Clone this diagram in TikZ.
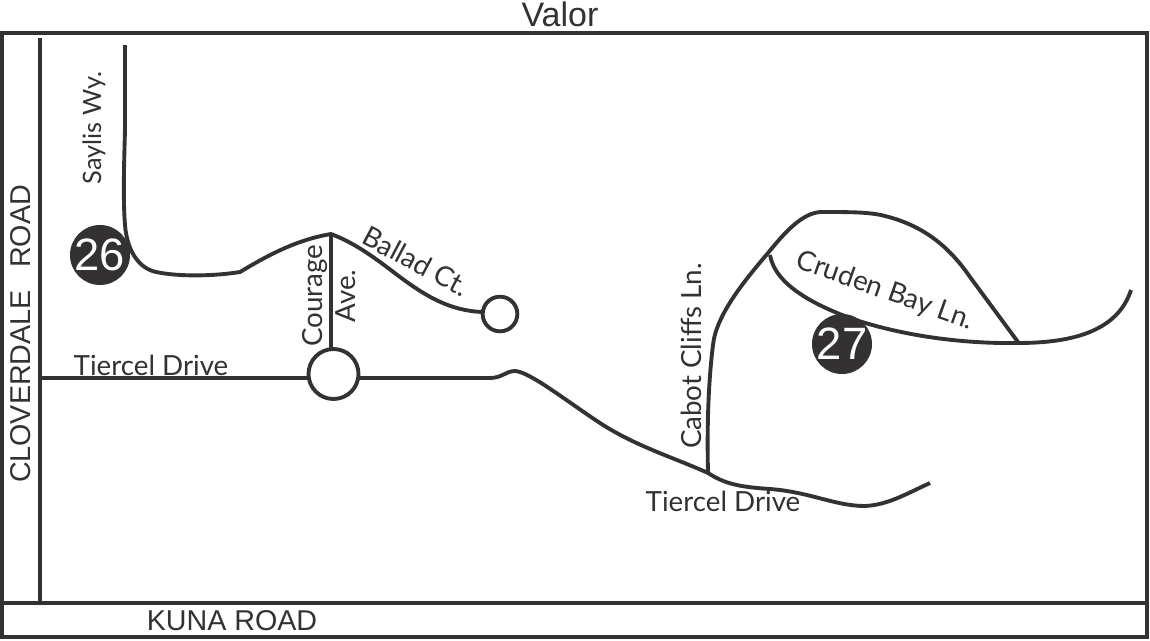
\documentclass[tikz,border=0pt]{standalone}
\usepackage{fontspec}
\setmainfont{Liberation Sans}
\newfontfamily\roadfont{Lato}
\definecolor{ink}{HTML}{333132}
\tikzset{road/.style={draw=ink,line width=2.9pt,line join=round,line cap=butt},
frame/.style={draw=ink,line width=3pt},
lab/.style={text=ink,font=\roadfont\fontsize{20.8}{20.8}\selectfont,inner sep=0pt},
big/.style={text=ink,font=\fontsize{21.5}{21.5}\selectfont,inner sep=0pt},
badge/.style={circle,fill=ink,minimum size=45pt,inner sep=0pt,text=white,font=\fontsize{34}{34}\selectfont},
ring/.style={circle,draw=ink,line width=2.9pt,inner sep=0pt,fill=white}}
\begin{document}
\begin{tikzpicture}[x=1pt,y=-1pt]
\useasboundingbox (0,0) rectangle (862.5,480);
\begin{scope}[scale=0.75]
\draw[frame] (2,33) rectangle (1147,637);
\draw[frame] (2,603) -- (1147,603);
\draw[road] (40,38) -- (40,603);
\draw[road] (125,45) -- (125,130) .. controls (124,165) and (123,200) .. (125,225) .. controls (127,250) and (138,268) .. (156,272) .. controls (180,277) and (215,276) .. (240,272) .. controls (265,257) and (295,240) .. (331,234) .. controls (355,243) and (375,258) .. (396,274) .. controls (425,296) and (450,311) .. (483,312);
\draw[road] (331,235) -- (331,350);
\coordinate (tw) at (42,378);
\coordinate (tm) at (360,378);
\draw[road] (tw) -- (tm);
\draw[road] (358,378) -- (490,378) .. controls (502,378) and (506,371) .. (515,371) .. controls (530,372) and (565,400) .. (600,423) .. controls (635,446) and (675,458) .. (708,473) .. controls (725,484) and (740,487) .. (770,489) .. controls (810,492) and (835,506) .. (865,506) .. controls (888,505) and (908,493) .. (930,483);
\draw[road] (708,473) .. controls (707,430) and (708,385) .. (713,345) .. controls (716,315) and (745,280) .. (768,253) .. controls (785,232) and (803,212) .. (822,212) .. controls (850,212) and (870,212) .. (885,216) .. controls (925,226) and (950,248) .. (970,277) -- (1018,342);
\draw[road] (770,255) .. controls (775,285) and (815,305) .. (850,318) .. controls (890,332) and (950,344) .. (1018,343) .. controls (1075,343) and (1118,330) .. (1131,290);
\node[ring,minimum size=37.5pt] (rb) at (333.5,374) {};
\node[ring,minimum size=26pt] (ra) at (500,314) {};
\node[badge] (b26) at (100,255) {26};
\node[badge] (b27) at (842,344) {27};
\node[big,font=\fontsize{25.5}{25.5}\selectfont] (valor) at (560,14) {Valor};
\node[big,rotate=90] (cr) at (21,334) {CLOVERDALE\hspace{0.5em} ROAD};
\node[big] (kuna) at (232,621) {KUNA ROAD};
\node[lab] (t1) at (151,365) {Tiercel Drive};
\node[lab] (t2) at (723,501) {Tiercel Drive};
\node[lab,font=\roadfont\fontsize{19}{19}\selectfont,rotate=90] (say) at (94,128) {Saylis Wy.};
\node[lab,rotate=90] (cou) at (315,296) {Courage};
\node[lab,rotate=90] (ave) at (346,296) {Ave.};
\node[lab,rotate=-28] (bal) at (416,261) {Ballad Ct.};
\node[lab,rotate=90] (cab) at (691,356) {Cabot Cliffs Ln.};
\node[lab,rotate=-19.5] (cru) at (885,291) {Cruden Bay Ln.};
\end{scope}
\end{tikzpicture}
\end{document}
